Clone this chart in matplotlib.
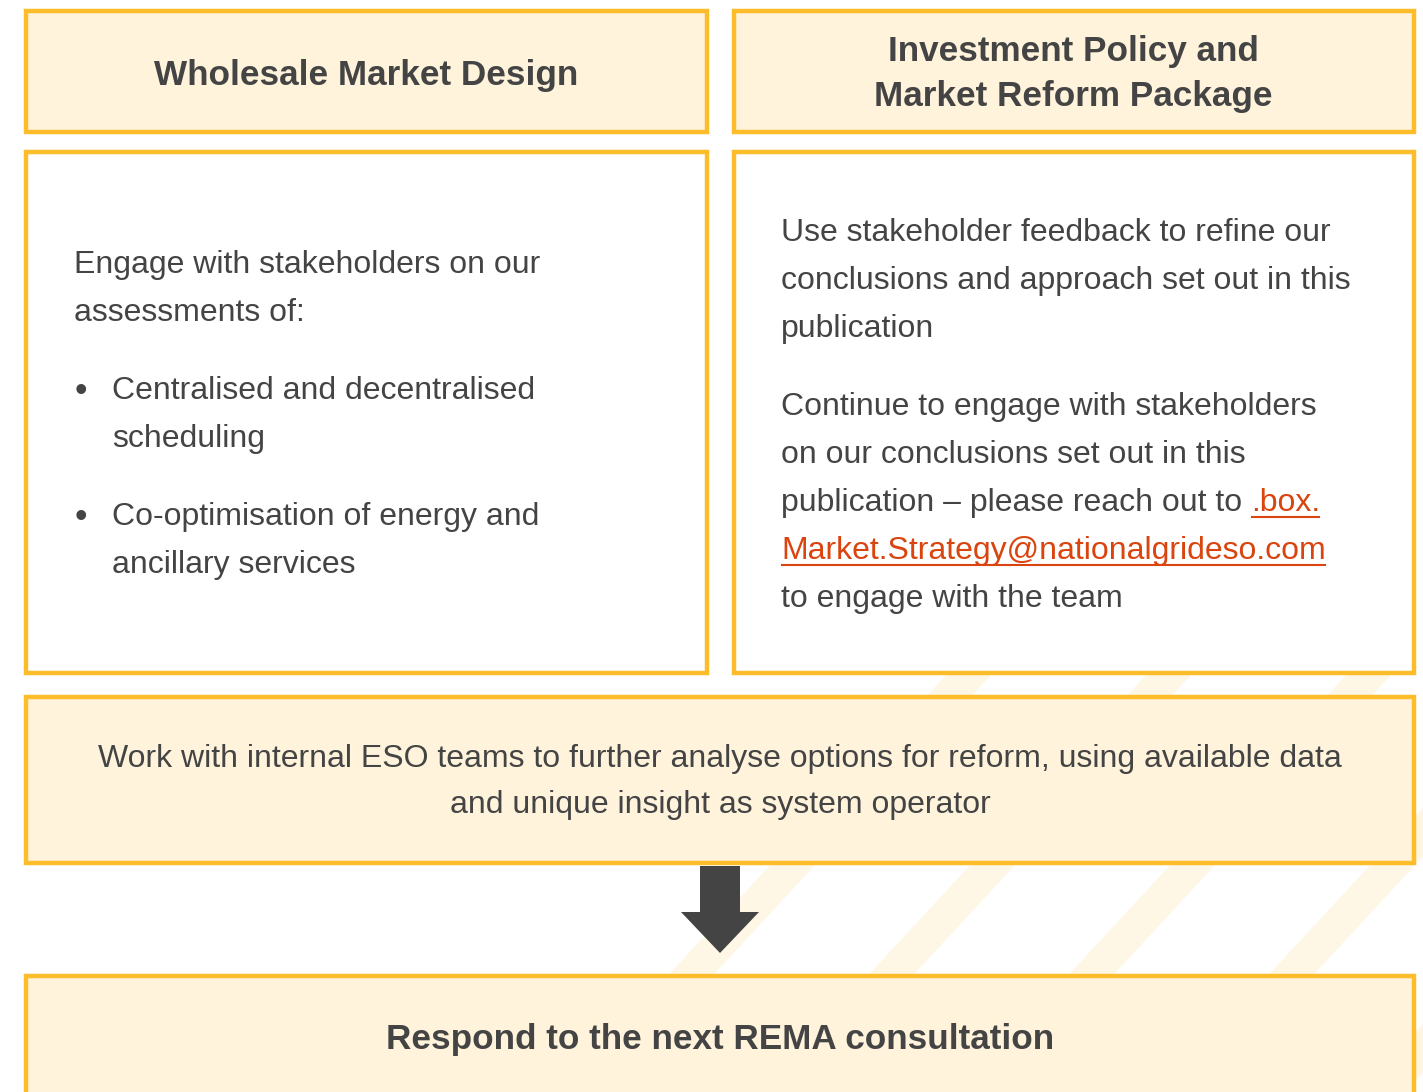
import matplotlib.pyplot as plt
from matplotlib.patches import Rectangle, Polygon

W, H = 1423, 1092
GOLD = "#FDBC2A"
CREAM = "#FFF3DC"
TXT = "#444444"
LINK = "#D9440F"
FONT = "Liberation Sans"

header_left = "Wholesale Market Design"
header_right = "Investment Policy and\nMarket Reform Package"
left_intro = ["Engage with stakeholders on our", "assessments of:"]
left_bullets = [["Centralised and decentralised", "scheduling"],
                ["Co-optimisation of energy and", "ancillary services"]]
right_para1 = ["Use stakeholder feedback to refine our",
               "conclusions and approach set out in this",
               "publication"]
right_para2 = ["Continue to engage with stakeholders",
               "on our conclusions set out in this"]
right_mixed = "publication \u2013 please reach out to "
link_parts = [".box.", "Market.Strategy@nationalgrideso.com"]
right_tail = "to engage with the team"
wide_text = ("Work with internal ESO teams to further analyse options for reform, using available data\n"
             "and unique insight as system operator")
bottom_text = "Respond to the next REMA consultation"

fig = plt.figure(figsize=(W / 100, H / 100), dpi=100)
ax = fig.add_axes([0, 0, 1, 1])
ax.set_xlim(0, W)
ax.set_ylim(H, 0)
ax.axis("off")

# faint diagonal stripes in the background
for x0 in [560, 760, 960, 1160, 1360]:
    ax.add_patch(Polygon([(x0, 1092), (x0 + 45, 1092), (x0 + 45 + 400, 660), (x0 + 400, 660)],
                         closed=True, fc="#FFF7E6", ec="none", zorder=0))


def box(x0, y0, x1, y1, fill):
    ax.add_patch(Rectangle((x0, y0), x1 - x0, y1 - y0, fc=fill, ec=GOLD, lw=3.2, zorder=2))


box(26, 11, 707, 132, CREAM)
box(734, 11, 1414, 132, CREAM)
box(26, 152, 707, 673, "white")
box(734, 152, 1414, 673, "white")
box(26, 697, 1414, 863, CREAM)
box(26, 976, 1414, 1100, CREAM)

hd = dict(fontsize=25.3, fontweight="bold", color=TXT, family=FONT, zorder=3)
ax.text(366, 75, header_left, ha="center", va="center", **hd)
ax.text(1073, 74, header_right, ha="center", va="center", linespacing=1.45, **hd)

FS = 23
bd = dict(fontsize=FS, color=TXT, family=FONT, va="center", zorder=3)
LS = 48
for i, s in enumerate(left_intro):
    ax.text(74, 265 + i * LS, s, **bd)
for j, item in enumerate(left_bullets):
    yb = 391 + j * 126
    ax.text(75, yb, "\u2022", fontsize=26, color=TXT, family=FONT, va="center", zorder=3)
    for i, s in enumerate(item):
        ax.text(112, yb + i * LS, s, **bd)

for i, s in enumerate(right_para1):
    ax.text(781, 233 + i * LS, s, **bd)
for i, s in enumerate(right_para2):
    ax.text(781, 407 + i * LS, s, **bd)

fig.canvas.draw()
r = fig.canvas.get_renderer()
inv = ax.transData.inverted()

t = ax.text(781, 503, right_mixed, **bd)
ext = t.get_window_extent(r)
xend = inv.transform((ext.x1, 0))[0]


def link(x, y, s):
    lt = ax.text(x, y, s, fontsize=FS, color=LINK, family=FONT, va="center", zorder=3)
    e = lt.get_window_extent(r)
    xa = inv.transform((e.x0, 0))[0]
    xb = inv.transform((e.x1, 0))[0]
    ax.plot([xa + 1, xb - 1], [y + 14, y + 14], color=LINK, lw=1.5, zorder=3)


link(xend, 503, link_parts[0])
link(781, 551, link_parts[1])
ax.text(781, 599, right_tail, **bd)

ax.text(720, 782, wide_text, ha="center", va="center", linespacing=1.72,
        fontsize=FS, color=TXT, family=FONT, zorder=3)
ax.text(720, 1040, bottom_text, ha="center", va="center", **hd)

# arrow between the two lower boxes
ax.add_patch(Polygon([(700, 866), (740, 866), (740, 912), (759, 912), (720, 953),
                      (681, 912), (700, 912)], closed=True, fc="#444444", ec="none", zorder=3))

fig.savefig("out.png", dpi=100)
